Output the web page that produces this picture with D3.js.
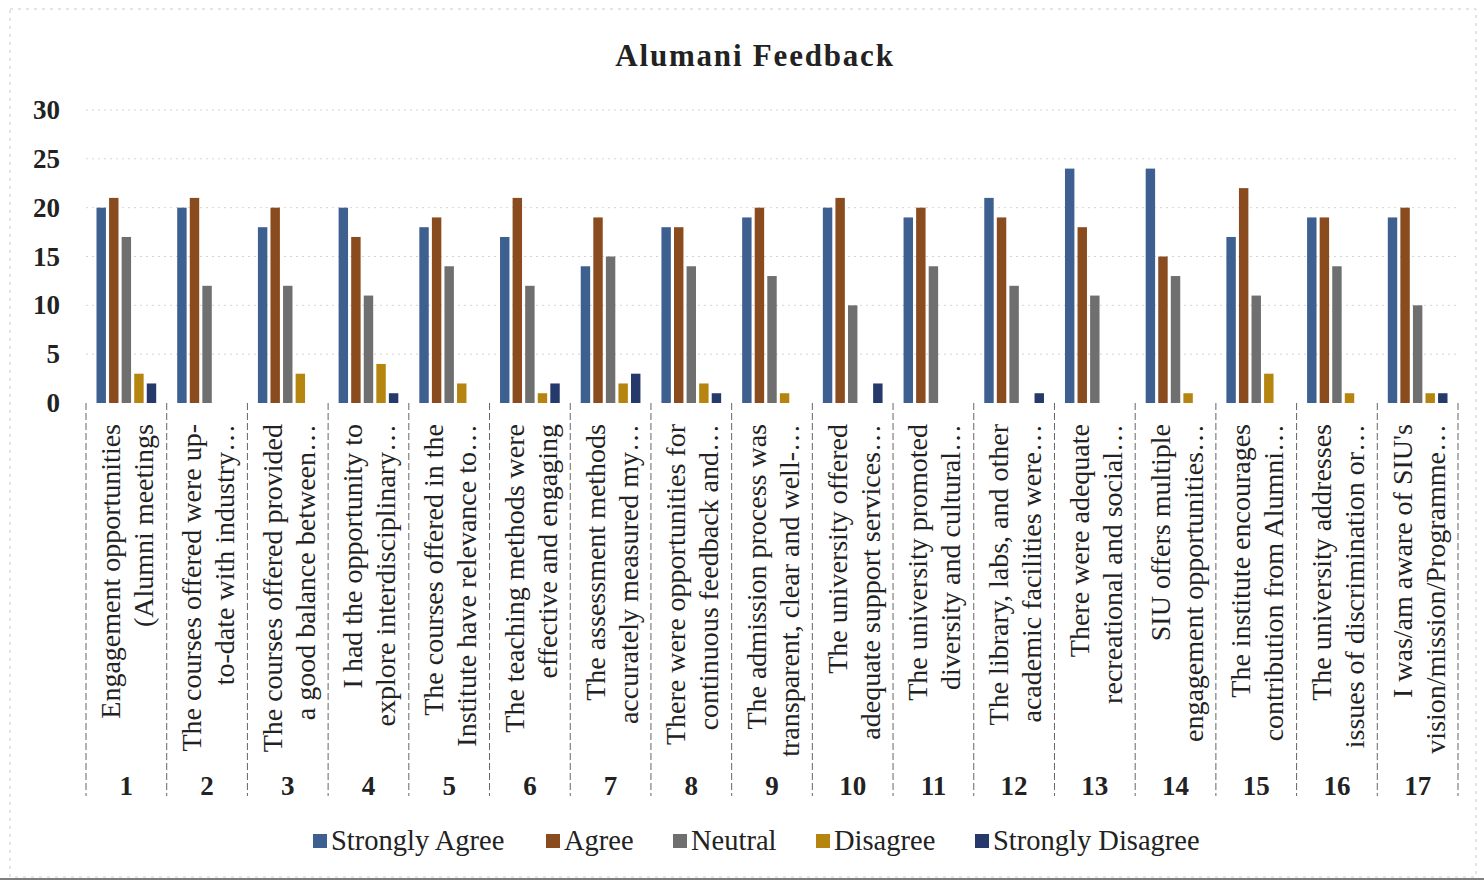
<html lang="en">
<head>
    <meta charset="UTF-8">
    <title>Alumani Feedback</title>
    <script src="https://d3js.org/d3.v7.min.js"></script>
    <style>
        body {
            margin: 0;
            background: #ffffff;
            font-family: 'Liberation Serif', 'Times New Roman', serif;
        }
        svg text { fill: #222; }
    </style>
</head>
<body>
    <div id="chart"></div>

    <script>
        // question numbers (outer axis level)
        const questions = d3.range(1, 18).map(String);

        // wrapped question text (inner axis level), as it shows in the chart
        const questionText = [
            ["Engagement opportunities", "(Alumni meetings"],
            ["The courses offered were up-", "to-date with industry…"],
            ["The courses offered provided", "a good balance between…"],
            ["I had the opportunity to", "explore interdisciplinary…"],
            ["The courses offered in the", "Institute have relevance to…"],
            ["The teaching methods were", "effective and engaging"],
            ["The assessment methods", "accurately measured my…"],
            ["There were opportunities for", "continuous feedback and…"],
            ["The admission process was", "transparent, clear and well-…"],
            ["The university offered", "adequate support services…"],
            ["The university promoted", "diversity and cultural…"],
            ["The library, labs, and other", "academic facilities were…"],
            ["There were adequate", "recreational and social…"],
            ["SIU offers multiple", "engagement opportunities…"],
            ["The institute encourages", "contribution from Alumni…"],
            ["The university addresses", "issues of discrimination or…"],
            ["I was/am aware of SIU's", "vision/mission/Programme…"]
        ];

        const seriesNames = ["Strongly Agree", "Agree", "Neutral", "Disagree", "Strongly Disagree"];
        const seriesColors = ["#3d6090", "#8a4b1e", "#6f6f6f", "#b5850f", "#25396a"];

        const stronglyAgree    = [20, 20, 18, 20, 18, 17, 14, 18, 19, 20, 19, 21, 24, 24, 17, 19, 19];
        const agree            = [21, 21, 20, 17, 19, 21, 19, 18, 20, 21, 20, 19, 18, 15, 22, 19, 20];
        const neutral          = [17, 12, 12, 11, 14, 12, 15, 14, 13, 10, 14, 12, 11, 13, 11, 14, 10];
        const disagree         = [3, 0, 3, 4, 2, 1, 2, 2, 1, 0, 0, 0, 0, 1, 3, 1, 1];
        const stronglyDisagree = [2, 0, 0, 1, 0, 2, 3, 1, 0, 2, 0, 1, 0, 0, 0, 0, 1];

        const yTicks = [0, 5, 10, 15, 20, 25, 30];

        const series = [stronglyAgree, agree, neutral, disagree, stronglyDisagree];

        const width = 1484, height = 882;
        const plot = { left: 86, right: 1458, top: 110, bottom: 403 };

        const svg = d3.select('#chart').append('svg')
            .attr('width', width)
            .attr('height', height);

        // faint outer frame of the scanned chart
        svg.append('rect')
            .attr('x', 10).attr('y', 9)
            .attr('width', 1466).attr('height', 868)
            .attr('fill', 'none')
            .attr('stroke', '#c8c8c8')
            .attr('stroke-dasharray', '3,5');
        svg.append('line')
            .attr('x1', 0).attr('x2', width)
            .attr('y1', 879).attr('y2', 879)
            .attr('stroke', '#555').attr('stroke-width', 1.5);

        const x = d3.scaleBand()
            .domain(questions)
            .range([plot.left, plot.right])
            .padding(0);

        const xInner = d3.scaleBand()
            .domain(seriesNames)
            .range([10.5, x.bandwidth() - 10.5])
            .paddingInner(0.25);

        const y = d3.scaleLinear()
            .domain([0, 30])
            .range([plot.bottom, plot.top]);

        // title
        svg.append('text')
            .attr('x', 755).attr('y', 66)
            .attr('text-anchor', 'middle')
            .style('font-size', '31px')
            .style('font-weight', 'bold')
            .style('letter-spacing', '1.8px')
            .text('Alumani Feedback');

        // gridlines
        svg.append('g')
            .selectAll('line')
            .data(yTicks.filter(d => d > 0))
            .join('line')
            .attr('x1', plot.left).attr('x2', plot.right)
            .attr('y1', d => y(d)).attr('y2', d => y(d))
            .attr('stroke', '#d4d4d4')
            .attr('stroke-dasharray', '2,4');

        // y axis labels
        const yAxis = d3.axisLeft(y).tickValues(yTicks).tickSize(0).tickPadding(26);
        const yg = svg.append('g')
            .attr('transform', `translate(${plot.left},0)`)
            .call(yAxis);
        yg.select('.domain').remove();
        yg.selectAll('text')
            .style('font-family', "'Liberation Serif', serif")
            .style('font-size', '27px')
            .style('font-weight', 'bold')
            .attr('fill', '#222');

        // bars
        const groups = svg.append('g')
            .selectAll('g')
            .data(questions)
            .join('g')
            .attr('transform', d => `translate(${x(d)},0)`);

        groups.selectAll('rect')
            .data((q, i) => series.map((s, k) => ({ name: seriesNames[k], value: s[i], color: seriesColors[k] })))
            .join('rect')
            .attr('x', d => xInner(d.name))
            .attr('width', xInner.bandwidth())
            .attr('y', d => y(d.value))
            .attr('height', d => y(0) - y(d.value))
            .attr('fill', d => d.color);

        // category separators (multi-level axis)
        svg.append('g')
            .selectAll('line')
            .data(questions.map(q => x(q)).concat([plot.right]))
            .join('line')
            .attr('x1', d => d).attr('x2', d => d)
            .attr('y1', plot.bottom).attr('y2', 796)
            .attr('stroke', '#666')
            .attr('stroke-dasharray', '7,3');

        // inner labels: rotated question text
        const labelG = svg.append('g')
            .selectAll('g')
            .data(questions)
            .join('g')
            .attr('transform', d => `translate(${x(d) + x.bandwidth() / 2},424) rotate(-90)`);

        labelG.selectAll('text')
            .data((q, i) => questionText[i].map((t, j) => ({ t, j })))
            .join('text')
            .attr('x', 0)
            .attr('y', d => d.j === 0 ? -6 : 27)
            .attr('text-anchor', 'end')
            .style('font-size', '28px')
            .text(d => d.t);

        // outer labels: question numbers
        svg.append('g')
            .selectAll('text')
            .data(questions)
            .join('text')
            .attr('x', d => x(d) + x.bandwidth() / 2)
            .attr('y', 795)
            .attr('text-anchor', 'middle')
            .style('font-size', '27px')
            .style('font-weight', 'bold')
            .text(d => d);

        // legend
        const legendX = [313, 546, 673, 816, 975];
        const legend = svg.append('g')
            .selectAll('g')
            .data(seriesNames)
            .join('g')
            .attr('transform', (d, i) => `translate(${legendX[i]},841)`);

        legend.append('rect')
            .attr('x', 0).attr('y', -7)
            .attr('width', 14).attr('height', 14)
            .attr('fill', (d, i) => seriesColors[i]);

        legend.append('text')
            .attr('x', 18).attr('y', 9)
            .style('font-size', '28.5px')
            .text(d => d);
    </script>
</body>
</html>
